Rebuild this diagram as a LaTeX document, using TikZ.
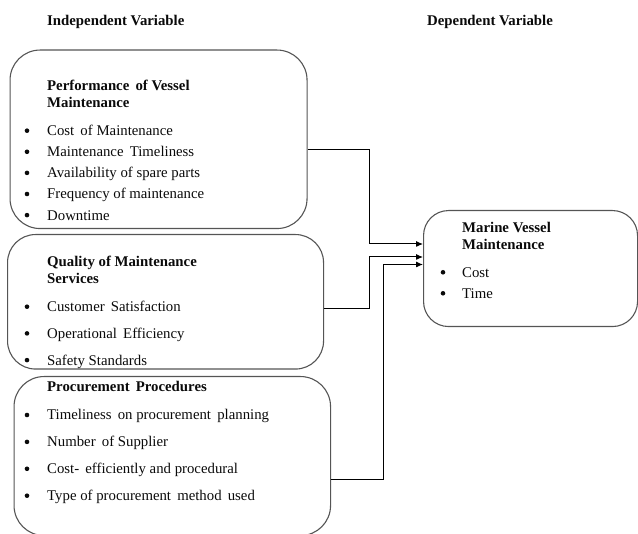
\documentclass[tikz,border=0pt]{standalone}
\usepackage{fontspec}
\setmainfont{Liberation Serif}
\usetikzlibrary{arrows.meta,positioning,calc}

\newcommand{\bodysize}{\fontsize{14.8}{17}\selectfont}

\begin{document}
\begin{tikzpicture}[
        x=1pt, y=-1pt, % one unit is one pixel of the sketch, y downwards
        >={Latex[length=7pt,width=6pt]},
        varbox/.style={draw=boxgray, line width=1.1pt, rounded corners=#1,
            inner sep=0pt, anchor=north west},
        varbox/.default=30pt,
        heading/.style={anchor=base west, inner sep=0pt, text=inkblack,
            font=\bfseries\bodysize},
        entry/.style={anchor=base west, inner sep=0pt, text=inkblack,
            font=\bodysize},
        blob/.style={fill=inkblack},
        link/.style={->, draw=black, line width=1pt}
    ]

        % --- COLOURS ---
        \definecolor{boxgray}{RGB}{85, 85, 85}
        \definecolor{inkblack}{RGB}{10, 10, 10}

        % --- FRAME ---
        \useasboundingbox (0,0) rectangle (638,534);
        \clip (0,0) rectangle (638,534);

        % --- TITLES ---
        \node[heading] (indep) at (47,25.5) {Independent Variable};
        \node[heading] (dep) at (427,25.5) {Dependent Variable};

        % --- BOXES ---
        \node[varbox, minimum width=297pt, minimum height=178.5pt] (perf) at (9.5,49.5) {};
        \node[varbox=28pt, minimum width=316pt, minimum height=134.5pt] (qual) at (7,234) {};
        \node[varbox, minimum width=316.5pt, minimum height=159pt] (proc) at (13.5,376) {};
        \node[varbox=25pt, minimum width=214pt, minimum height=116pt] (mvm) at (423,210) {};

        % --- PERFORMANCE OF VESSEL MAINTENANCE ---
        \node[heading] (perf-h1) at (47,90.7) {Performance\, of Vessel};
        \node[heading] (perf-h2) at (47,107.7) {Maintenance};
        \foreach \t [count=\i] in {Cost\, of Maintenance, Maintenance\, Timeliness,
                Availability of spare parts, Frequency of maintenance, Downtime} {
            \node[entry] (perf-\i) at (47,{135.7+21.1*(\i-1)}) {\t};
            \fill[blob] (perf-\i.base west) ++(-20,-5) circle (2.3pt);
        }

        % --- QUALITY OF MAINTENANCE SERVICES ---
        \node[heading] (qual-h1) at (47,266.7) {Quality of Maintenance};
        \node[heading] (qual-h2) at (47,283.3) {Services};
        \foreach \t [count=\i] in {Customer\, Satisfaction, Operational\, Efficiency,
                Safety Standards} {
            \node[entry] (qual-\i) at (47,{311.7+26.7*(\i-1)}) {\t};
            \fill[blob] (qual-\i.base west) ++(-20,-5) circle (2.3pt);
        }

        % --- PROCUREMENT PROCEDURES ---
        \node[heading] (proc-h1) at (47,391.7) {Procurement\, Procedures};
        \foreach \t [count=\i] in {Timeliness\, on procurement\, planning,
                Number\, of Supplier, Cost-\, efficiently and procedural,
                Type of procurement\, method\, used} {
            \node[entry] (proc-\i) at (47,{420+26.9*(\i-1)}) {\t};
            \fill[blob] (proc-\i.base west) ++(-20,-5) circle (2.3pt);
        }

        % --- MARINE VESSEL MAINTENANCE ---
        \node[heading] (mvm-h1) at (462,232.7) {Marine Vessel};
        \node[heading] (mvm-h2) at (462,249.3) {Maintenance};
        \foreach \t [count=\i] in {Cost, Time} {
            \node[entry] (mvm-\i) at (462,{277.3+21*(\i-1)}) {\t};
            \fill[blob] (mvm-\i.base west) ++(-19,-5) circle (2.3pt);
        }

        % --- CONNECTORS ---
        \draw[link] (perf.east |- 0,150) -| (369,244) -- (mvm.west |- 0,244);
        \draw[link] (qual.east |- 0,308.5) -| (369,257) -- (mvm.west |- 0,257);
        \draw[link] (proc.east |- 0,480) -| (383,264.5) -- (mvm.west |- 0,264.5);

    \end{tikzpicture}
\end{document}
